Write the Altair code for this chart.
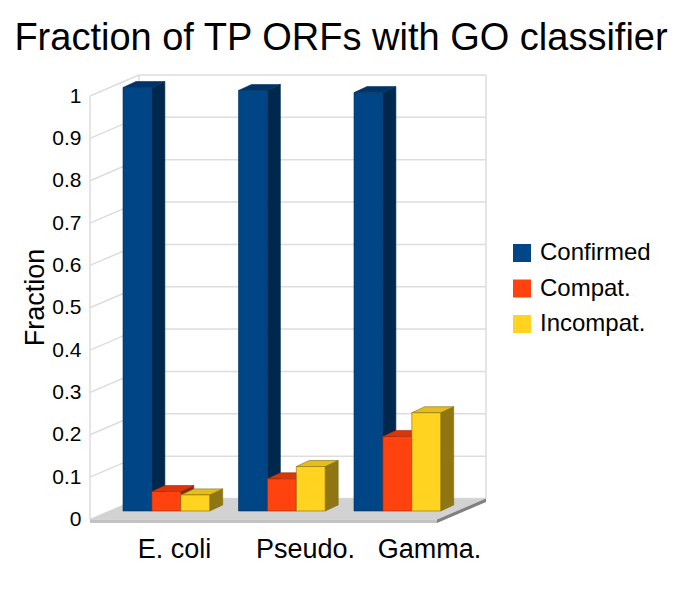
import altair as alt
import pandas as pd

categories = ["E. coli", "Pseudo.", "Gamma."]
series = ["Confirmed", "Compat.", "Incompat."]
confirmed = [1.0, 0.993, 0.988]
compat = [0.046, 0.076, 0.176]
incompat = [0.038, 0.105, 0.232]
ticks = [round(i / 10, 1) for i in range(11)]
label_pos = [84, 215, 339]

front_colors = ["#004586", "#ff420e", "#ffd320"]
side_colors = ["#00284d", "#8f2508", "#8f7612"]
top_colors = ["#003468", "#d93709", "#e6be1c"]
edge_colors = ["#003060", "#a02a08", "#806a10"]
FONT = "Liberation Sans"

PX = 423.0            # pixels per unit of value
WALL_X, WALL_Y = 49, 21 / PX
BASE = 8.5 / PX
DEPTH_X, DEPTH_Y = 13, 6 / PX
FLOOR_W, FLOOR_T = 347, 3.5 / PX
BAR_W, STEP, START = 28.9, 115.5, 33

xs = alt.Scale(domain=[0, 396], range=[0, 396], nice=False, zero=False)
ys = alt.Scale(domain=[-FLOOR_T, 1 + WALL_Y], nice=False, zero=False)
x_axis = alt.Axis(
    values=label_pos, grid=False, domain=False, ticks=False, labelFontSize=27, labelFont=FONT,
    labelColor="#000000", labelPadding=13, labelOverlap=False, labelFlush=False,
    labelExpr="['E. coli','Pseudo.','Gamma.'][indexof([84,215,339],datum.value)]",
)
y_axis = alt.Axis(
    values=ticks, grid=False, domain=False, ticks=False, labelFontSize=21, labelFont=FONT,
    labelColor="#000000", labelPadding=9, labelOverlap=False, labelFlush=False, format="~g",
    titleFont=FONT, titleFontSize=27, titleFontWeight="normal", titleColor="#000000",
    titleX=-41, titleY=222,
)
X = alt.X("x:Q", scale=xs, axis=x_axis, title=None)
Y = alt.Y("y:Q", scale=ys, axis=y_axis, title="Fraction")
Y2 = alt.Y2("y2:Q")


def poly(rows, color, stroke=None):
    df = pd.DataFrame(rows, columns=["id", "x", "y", "y2"])
    props = dict(color=color, opacity=1, interpolate="linear", orient="vertical")
    if stroke:
        props.update(stroke=stroke, strokeWidth=0.6)
    return alt.Chart(df).mark_area(**props).encode(x=X, y=Y, y2=Y2, detail="id:N")


def rules(rows):
    df = pd.DataFrame(rows, columns=["x", "x2", "y", "y2"])
    return alt.Chart(df).mark_rule(color="#dddddd", strokeWidth=1.5).encode(
        x=X, x2=alt.X2("x2:Q"), y=Y, y2=Y2
    )


layers = []

# walls and grid
layers.append(rules([[WALL_X, 396, t + WALL_Y, t + WALL_Y] for t in ticks]))
layers.append(rules([[0, WALL_X, t, t + WALL_Y] for t in ticks]))
layers.append(rules([[0, 0, 0, 1], [WALL_X, WALL_X, WALL_Y, 1 + WALL_Y], [396, 396, WALL_Y, 1 + WALL_Y]]))

# floor
layers.append(poly([[0, 0, 0, 0], [0, WALL_X, WALL_Y, 0], [0, FLOOR_W, WALL_Y, 0], [0, 396, WALL_Y, WALL_Y]], "#d2d2d2"))
layers.append(poly([[0, 0, 0, -FLOOR_T], [0, FLOOR_W, 0, -FLOOR_T]], "#c2c2c2"))
layers.append(poly([[0, FLOOR_W, 0, -FLOOR_T], [0, 396, WALL_Y, WALL_Y - FLOOR_T]], "#808080"))

# bars, back to front in series order
for s, (name, values) in enumerate(zip(series, [confirmed, compat, incompat])):
    side, top, front = [], [], []
    for g, v in enumerate(values):
        l = START + STEP * g + BAR_W * s
        r = l + BAR_W
        t = v + BASE
        side += [[g, r, t, BASE], [g, r + DEPTH_X, t + DEPTH_Y, BASE + DEPTH_Y]]
        top += [[g, l, t, t], [g, l + DEPTH_X, t + DEPTH_Y, t], [g, r, t + DEPTH_Y, t],
                [g, r + DEPTH_X, t + DEPTH_Y, t + DEPTH_Y]]
        front.append({"series": name, "x": l, "x2": r, "y": t, "y2": BASE})
    layers.append(poly(side, side_colors[s], edge_colors[s]))
    layers.append(poly(top, top_colors[s], edge_colors[s]))
    layers.append(alt.Chart(pd.DataFrame(front)).mark_rect(stroke=edge_colors[s], strokeWidth=0.6).encode(
        x=X, x2=alt.X2("x2:Q"), y=Y, y2=Y2,
        color=alt.Color("series:N", scale=alt.Scale(domain=series, range=front_colors), legend=alt.Legend(
            title=None, orient="none", legendX=420, legendY=166, symbolType="square", symbolSize=324,
            symbolStrokeWidth=0, labelFontSize=24, labelFont=FONT, labelColor="#000000", labelOffset=6,
            rowPadding=11.5, symbolOpacity=1)),
    ))

chart = alt.layer(*layers).properties(
    width=396, height=448,
    autosize=alt.AutoSizeParams(type="none"),
    padding={"left": 82, "top": 67, "right": 190, "bottom": 50},
    title=alt.TitleParams("Fraction of TP ORFs with GO classifier", font=FONT, fontSize=38,
                          fontWeight="normal", color="#000000", anchor="middle", dx=53, offset=16),
).configure_view(stroke=None)

chart.save("out.html", embed_options={"renderer": "svg", "actions": False})
